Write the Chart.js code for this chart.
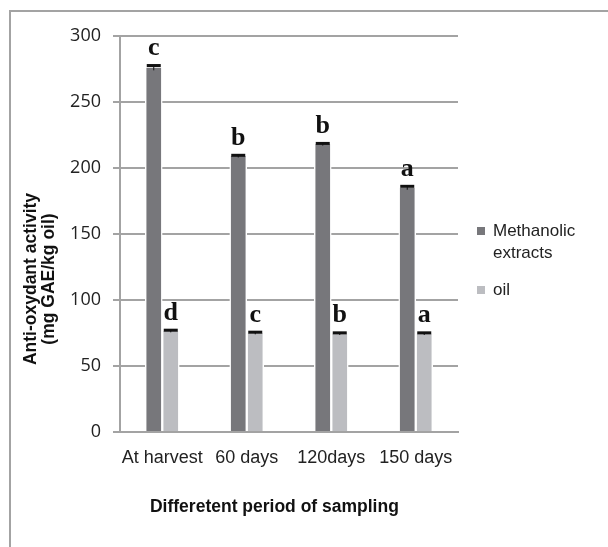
<!DOCTYPE html>
<html>
<head>
<meta charset="utf-8">
<script src="https://cdn.jsdelivr.net/npm/chart.js@4.4.1/dist/chart.umd.min.js"></script>
<style>
  body { margin: 0; background: #fff; }
  #frame { position: absolute; left: 9px; top: 10px; width: 700px; height: 700px; border: 2px solid #a3a3a3; }
  #wrap { position: absolute; left: 0; top: 0; width: 608px; height: 547px; }
</style>
</head>
<body>
<div id="frame"></div>
<div id="wrap"><canvas id="chart"></canvas></div>
<script>
// Sampling periods on the x axis
const periods = ['At harvest', '60 days', '120days', '150 days'];

// Methanolic extracts values and error
const methanolic = [276, 209, 218, 185];
const methanolicErr = [2, 1, 1, 1.5];
const methanolicLetters = ['c', 'b', 'b', 'a'];

// Oil values and error
const oil = [76.5, 75, 74.5, 74.5];
const oilErr = [1, 1, 1, 1];
const oilLetters = ['d', 'c', 'b', 'a'];

// Legend labels (first one wraps on two lines)
const legendLabels = [['Methanolic', 'extracts'], ['oil']];

const darkGray = '#77777b';
const lightGray = '#bcbdc1';

// Draws error bars and significance letters over each bar
const barExtras = {
  id: 'barExtras',
  afterDatasetsDraw(chart) {
    const ctx = chart.ctx;
    const yScale = chart.scales.y;
    const errs = [methanolicErr, oilErr];
    const letters = [methanolicLetters, oilLetters];
    chart.data.datasets.forEach((ds, i) => {
      const meta = chart.getDatasetMeta(i);
      meta.data.forEach((bar, j) => {
        const val = ds.data[j];
        const top = yScale.getPixelForValue(val + errs[i][j]);
        const bottom = yScale.getPixelForValue(val - errs[i][j]);
        ctx.save();
        ctx.fillStyle = '#111';
        ctx.fillRect(bar.x - 7, top - 1, 14, 3);
        ctx.fillRect(bar.x - 0.5, top, 1, bottom - top);
        ctx.font = 'bold 26px "Liberation Serif"';
        ctx.textAlign = 'center';
        ctx.textBaseline = 'alphabetic';
        ctx.fillText(letters[i][j], bar.x, top - 10);
        ctx.restore();
      });
    });
  }
};

// Custom legend on the right and the two-line y axis title
const sideText = {
  id: 'sideText',
  afterDraw(chart) {
    const ctx = chart.ctx;
    const colors = [darkGray, lightGray];
    const ys = [231, 290];
    ctx.save();
    ctx.font = '17px "Liberation Sans", Arial';
    ctx.textBaseline = 'middle';
    legendLabels.forEach((lines, i) => {
      ctx.fillStyle = colors[i];
      ctx.fillRect(477, ys[i] - 4, 8, 8);
      ctx.fillStyle = '#222';
      lines.forEach((t, k) => ctx.fillText(t, 493, ys[i] + k * 22));
    });

    // y axis title
    ctx.translate(0, 279);
    ctx.rotate(-Math.PI / 2);
    ctx.font = 'bold 17.5px "Liberation Sans", Arial';
    ctx.textAlign = 'center';
    ctx.fillStyle = '#111';
    ctx.fillText('Anti-oxydant activity', 0, 31);
    ctx.fillText('(mg GAE/kg oil)', 0, 49);
    ctx.restore();
  }
};

const canvas = document.getElementById('chart');

new Chart(canvas, {
  type: 'bar',
  data: {
    labels: periods,
    datasets: [
      {
        label: 'Methanolic extracts',
        data: methanolic,
        backgroundColor: darkGray,
        borderColor: '#fff',
        borderWidth: { left: 1.5, right: 1.5, top: 0, bottom: 0 },
        borderSkipped: false,
        barThickness: 17
      },
      {
        label: 'oil',
        data: oil,
        backgroundColor: lightGray,
        borderColor: '#fff',
        borderWidth: { left: 1.5, right: 1.5, top: 0, bottom: 0 },
        borderSkipped: false,
        barThickness: 17
      }
    ]
  },
  options: {
    responsive: true,
    maintainAspectRatio: false,
    animation: false,
    layout: { padding: { top: 36, right: 150, left: 0, bottom: 0 } },
    plugins: {
      legend: { display: false },
      tooltip: { enabled: false }
    },
    scales: {
      x: {
        grid: { display: false, drawTicks: false },
        border: { display: true, color: '#a3a3a3', width: 2 },
        ticks: {
          padding: 15,
          autoSkip: false,
          maxRotation: 0,
          minRotation: 0,
          color: '#222',
          font: { family: '"Liberation Sans", Arial', size: 18 }
        },
        title: {
          display: true,
          text: 'Differetent period of sampling      ',
          color: '#111',
          font: { family: '"Liberation Sans", Arial', size: 17.5, weight: 'bold' },
          padding: { top: 0, bottom: 29 }
        },
        afterFit(scale) { scale.height = 115; }
      },
      y: {
        min: 0,
        max: 300,
        ticks: {
          stepSize: 50,
          padding: 12,
          color: '#222',
          font: { family: '"Open Sans"', size: 18 }
        },
        grid: { color: '#a3a3a3', lineWidth: 2, tickLength: 7 },
        border: { display: true, color: '#a3a3a3', width: 2 },
        afterFit(scale) { scale.width = 120; }
      }
    }
  },
  plugins: [barExtras, sideText]
});
</script>
</body>
</html>
